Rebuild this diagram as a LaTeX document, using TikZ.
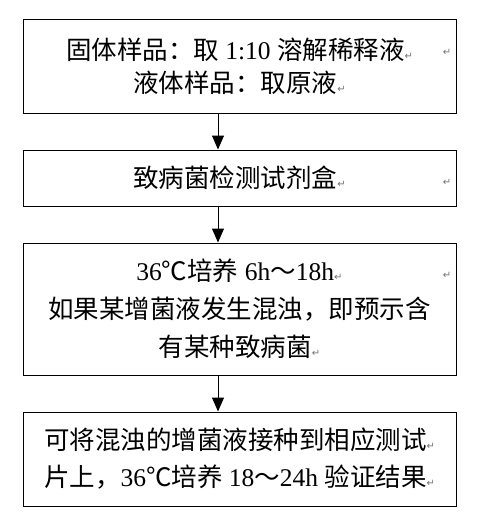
\documentclass[tikz,border=0pt]{standalone}
\usepackage{fontspec}
\setmainfont{Liberation Serif}
\newfontfamily\cjk{Noto Sans CJK SC}
\newfontfamily\symf{DejaVu Sans}
\usetikzlibrary{arrows.meta}
\newcommand\zh[1]{{\cjk #1}}
\newcommand\parmark{{\symf\fontsize{10}{10}\selectfont\textcolor{black!55}{↵}}}
\tikzset{
  x=1pt, y=-1pt,
  box/.style={draw=black, line width=1pt, minimum width=433pt, inner sep=0pt, align=center},
  flow/.style={draw=black, line width=1pt, -{Triangle[width=12pt,length=14pt]}},
  pmark/.style={inner sep=0pt}
}
\begin{document}
\begin{tikzpicture}
\useasboundingbox (0,0) rectangle (477,514);
\node[box, minimum height=94pt, font=\fontsize{25.5}{33}\selectfont] (b1) at (239.5,66)
  {\zh{固体样品：取} 1:10 \zh{溶解稀释液}\parmark\\ \zh{液体样品：取原液}\parmark};
\node[box, minimum height=56pt, font=\fontsize{25.5}{33}\selectfont] (b2) at (239.5,178)
  {\zh{致病菌检测试剂盒}\parmark};
\node[box, minimum height=132pt, font=\fontsize{25.5}{38}\selectfont] (b3) at (239.5,309)
  {36\zh{℃培养} 6h\zh{～}18h\parmark\\ \zh{如果某增菌液发生混浊，即预示含}\\ \zh{有某种致病菌}\parmark};
\node[box, minimum height=94pt, font=\fontsize{25.5}{37}\selectfont] (b4) at (239.5,459)
  {\zh{可将混浊的增菌液接种到相应测试}\parmark\\ \zh{片上，}36\zh{℃培养} 18\zh{～}24h \zh{验证结果}\parmark};
\node[pmark] (m1) at (447,52) {\parmark};
\node[pmark] (m2) at (447,182) {\parmark};
\node[pmark] (m3) at (447,275) {\parmark};
\draw[flow] ([xshift=-21.5pt]b1.south) -- ([xshift=-21.5pt]b2.north);
\draw[flow] ([xshift=-21.5pt]b2.south) -- ([xshift=-21.5pt]b3.north);
\draw[flow] ([xshift=-21.5pt]b3.south) -- ([xshift=-21.5pt]b4.north);
\end{tikzpicture}
\end{document}
